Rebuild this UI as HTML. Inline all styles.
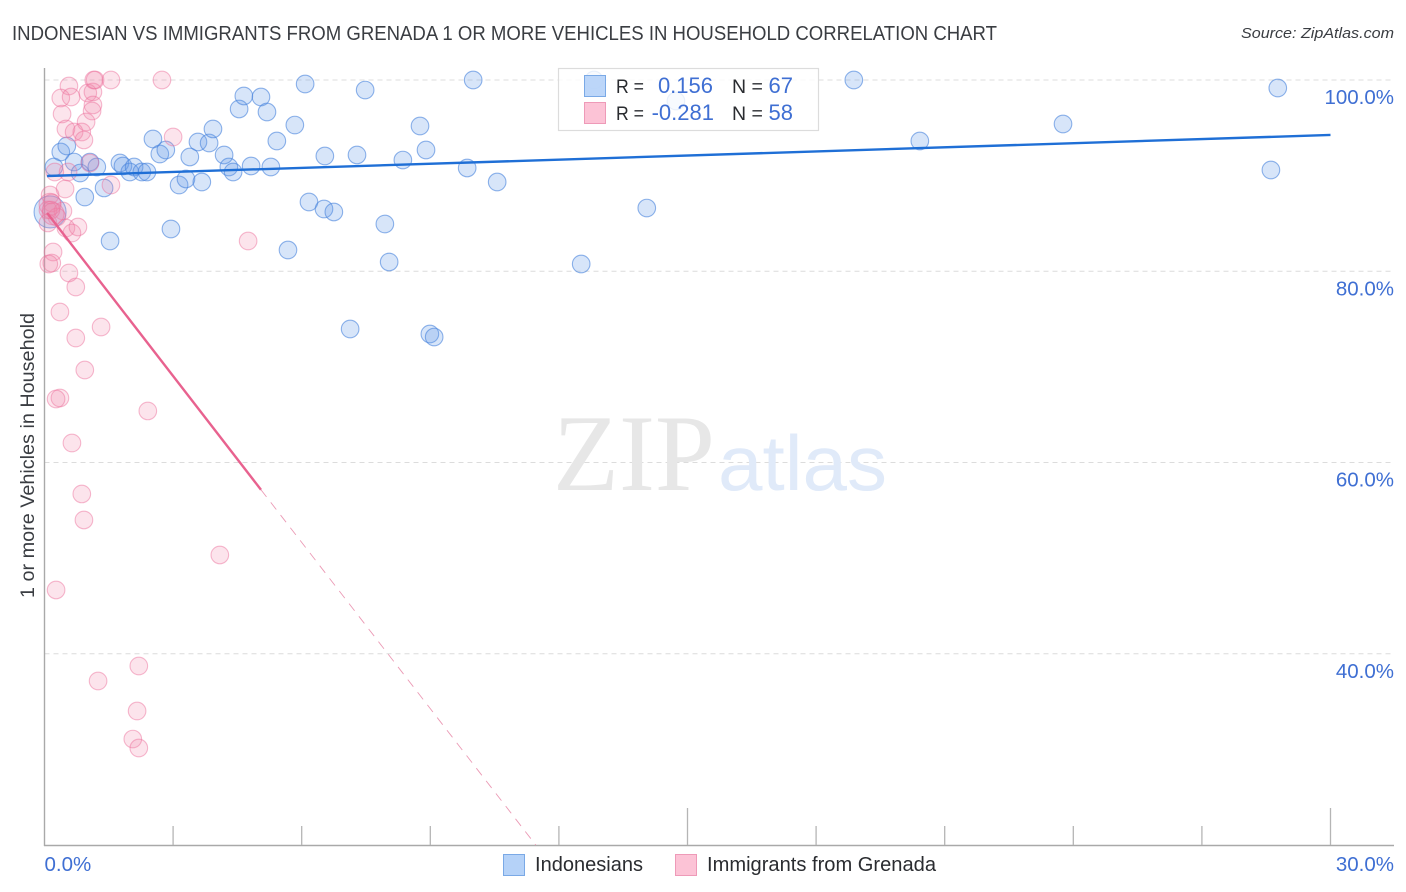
<!DOCTYPE html>
<html lang="en">
<head>
<meta charset="utf-8">
<title>Indonesian vs Immigrants from Grenada correlation chart</title>
<style>
html,body{margin:0;padding:0;background:#fff;}
svg{display:block;font-family:"Liberation Sans",sans-serif;}
</style>
</head>
<body>
<svg id="chart" xmlns="http://www.w3.org/2000/svg" width="1406" height="892" viewBox="0 0 1406 892">
  <rect x="0" y="0" width="1406" height="892" fill="#ffffff"/>
  <text x="12" y="40" font-size="20" fill="#3a3d42" textLength="985" lengthAdjust="spacingAndGlyphs">INDONESIAN VS IMMIGRANTS FROM GRENADA 1 OR MORE VEHICLES IN HOUSEHOLD CORRELATION CHART</text>
  <text x="1394" y="38" font-size="15" font-style="italic" fill="#3a3d42" text-anchor="end" textLength="153" lengthAdjust="spacingAndGlyphs">Source: ZipAtlas.com</text>
  <g id="grid"></g>
  <g>
    <text x="553" y="490" font-family="'Liberation Serif',serif" font-size="109" fill="#e7e7e7" textLength="162" lengthAdjust="spacingAndGlyphs">ZIP</text>
    <text x="718" y="490" font-family="'Liberation Sans',sans-serif" font-size="78" fill="#e0eaf9" textLength="169" lengthAdjust="spacingAndGlyphs">atlas</text>
  </g>
  <g id="axes"></g>
  <g id="points-indonesians"></g>
  <g id="points-grenada"></g>
  <g id="trends"></g>
  <g id="tick-labels"></g>
  <text transform="translate(34 598) rotate(-90)" font-size="19" fill="#3a3d42" textLength="285" lengthAdjust="spacingAndGlyphs">1 or more Vehicles in Household</text>

  <g>
    <rect x="558.5" y="68.5" width="260" height="62" fill="#ffffff" fill-opacity="0.8" stroke="#dcdcdc" stroke-width="1.2"/>
    <rect x="584.5" y="75.5" width="21" height="21" fill="#b5d2f8" fill-opacity="0.9" stroke="#7aa9e6"/>
    <rect x="584.5" y="102.5" width="21" height="21" fill="#fcc3d6" stroke="#ee9ab8"/>
    <text x="616" y="93" font-size="19.5" fill="#2a2c30" textLength="28" lengthAdjust="spacingAndGlyphs">R =</text>
    <text x="713" y="93" font-size="22" fill="#3f6fd3" text-anchor="end">0.156</text>
    <text x="732" y="93" font-size="19.5" fill="#2a2c30">N =</text>
    <text x="793" y="93" font-size="22" fill="#3f6fd3" text-anchor="end">67</text>
    <text x="616" y="120" font-size="19.5" fill="#2a2c30" textLength="28" lengthAdjust="spacingAndGlyphs">R =</text>
    <text x="714" y="120" font-size="22" fill="#3f6fd3" text-anchor="end">-0.281</text>
    <text x="732" y="120" font-size="19.5" fill="#2a2c30">N =</text>
    <text x="793" y="120" font-size="22" fill="#3f6fd3" text-anchor="end">58</text>
  </g>

  <g>
    <rect x="503.5" y="854.5" width="21" height="21" fill="#b5d2f8" stroke="#7aa9e6"/>
    <text x="535" y="871" font-size="20" fill="#2a2c30" textLength="108" lengthAdjust="spacingAndGlyphs">Indonesians</text>
    <rect x="675.5" y="854.5" width="21" height="21" fill="#fcc3d6" stroke="#ee9ab8"/>
    <text x="707" y="871" font-size="20" fill="#2a2c30" textLength="229" lengthAdjust="spacingAndGlyphs">Immigrants from Grenada</text>
  </g>
</svg>
<script>
const indonesianX = [0.22,0.38,0.52,0.69,0.83,0.94,1.06,1.22,1.39,1.53,1.76,1.83,1.99,2.09,2.27,2.39,2.53,2.69,2.83,2.95,3.14,3.30,3.39,3.58,3.67,3.84,3.93,4.19,4.30,4.40,4.54,4.65,4.82,5.05,5.19,5.28,5.42,5.68,5.84,6.08,6.17,6.52,6.54,6.75,7.13,7.29,7.48,7.94,8.04,8.36,8.76,8.90,8.99,9.09,9.86,10.00,10.56,12.52,12.82,14.73,14.05,18.88,20.42,23.76,28.61,28.77,0.13];
const indonesianY = [90.90,92.47,93.10,91.42,90.27,87.76,91.42,90.90,88.71,83.16,91.32,91.01,90.38,90.90,90.38,90.38,93.83,92.26,92.68,84.42,89.02,89.65,91.95,93.52,89.33,93.41,94.88,92.16,90.90,90.38,96.97,98.33,91.01,98.22,96.65,90.90,93.62,82.22,95.29,99.58,87.24,86.51,92.05,86.20,73.96,92.16,98.95,84.94,80.97,91.63,95.19,92.68,73.44,73.12,90.80,100,89.33,80.76,100,97.80,86.61,100,93.62,95.40,90.59,99.16,86.20];
const indonesianHeavyIndex = [66];

const grenadaX = [0.57,0.38,0.62,1.01,1.13,1.15,1.18,1.55,2.74,1.13,1.11,0.41,0.97,0.50,0.69,0.87,0.92,3.00,0.24,0.55,1.06,1.55,0.48,0.13,0.17,0.08,0.43,0.29,0.08,0.50,0.78,0.64,0.20,0.17,0.10,0.57,0.73,0.36,0.73,1.32,0.94,0.36,0.27,2.41,0.64,0.87,0.92,4.09,0.27,2.20,1.25,2.16,2.06,2.20,4.75,0.13,0.15,0.20];
const grenadaY = [99.37,98.12,98.22,98.64,98.75,100,100,100,100,97.39,96.76,96.44,95.61,94.88,94.56,94.56,93.73,94.04,90.38,90.38,91.32,89.02,88.60,87.97,87.14,86.41,86.30,85.67,85.05,84.52,84.63,84.00,82.01,80.86,80.76,79.82,78.35,75.74,73.02,74.17,69.67,66.75,66.64,65.39,62.04,56.71,53.99,50.33,46.67,38.72,37.15,34.01,31.08,30.14,83.16,87.00,86.40,86.00];
const grenadaHeavyIndex = [55,57];

const indonesianTrendX = [0.06,30];
const indonesianTrendY = [89.96,94.25];
const grenadaSolidX = [0.06,5.05];
const grenadaSolidY = [86.10,57.15];
const grenadaDashedX = [5.05,11.46];
const grenadaDashedY = [57.15,20];

const yTickValues = [100,80,60,40];
const yTickLabels = ["100.0%","80.0%","60.0%","40.0%"];
const xTickValues = [3,6,9,12,15,18,21,24,27,30];
const xTallTicks = [15,30];
const xEndValues = [0,30];
const xEndLabels = ["0.0%","30.0%"];

const xAxis = v => 44.5 + (v / 30) * 1286;
const yAxis = v => 80 + (100 - v) * 9.5625;
const NS = "http://www.w3.org/2000/svg";
const make = (tag, parent, attrs) => {
  const el = document.createElementNS(NS, tag);
  for (const k in attrs) el.setAttribute(k, attrs[k]);
  parent.appendChild(el);
  return el;
};

const grid = document.getElementById("grid");
yTickValues.forEach(v => {
  const el = make("line", grid, {x1:44.5, x2:1394, y1:yAxis(v), y2:yAxis(v), stroke:"#dcdcdc", "stroke-width":1, "stroke-dasharray":"5 4"});
  
  
});

const axes = document.getElementById("axes");
const yLine = make("line", axes, {x1:44.5, x2:44.5, y1:68, y2:846, stroke:"#a9a9a9", "stroke-width":1.4});


const xLine = make("line", axes, {x1:44, x2:1394, y1:845.5, y2:845.5, stroke:"#a9a9a9", "stroke-width":1.4});


xTickValues.forEach(v => {
  const top = xTallTicks.includes(v) ? 808 : 826;
  const el = make("line", axes, {x1:xAxis(v), x2:xAxis(v), y1:top, y2:845, stroke:"#b5b5b5", "stroke-width":1.3});
  
  
});

function drawPoints(groupId, xs, ys, heavy, fill, stroke, name) {
  const g = document.getElementById(groupId);
  xs.forEach((x, i) => {
    const isHeavy = heavy.includes(i);
    const el = make("circle", g, {cx:xAxis(x), cy:yAxis(ys[i]), r:isHeavy ? (groupId === "points-indonesians" ? 16 : 11) : 8.8, fill:fill, stroke:stroke, "stroke-width":1.1});
    
    
  });
}
drawPoints("points-indonesians", indonesianX, indonesianY, indonesianHeavyIndex, "rgba(96,150,230,0.25)", "rgba(70,130,220,0.6)", "indonesian-point");
drawPoints("points-grenada", grenadaX, grenadaY, grenadaHeavyIndex, "rgba(243,130,170,0.22)", "rgba(236,110,155,0.48)", "grenada-point");

const trends = document.getElementById("trends");
const blueTrend = make("line", trends, {x1:xAxis(indonesianTrendX[0]), y1:yAxis(indonesianTrendY[0]), x2:xAxis(indonesianTrendX[1]), y2:yAxis(indonesianTrendY[1]), stroke:"#1f6fd6", "stroke-width":2.4});


const pinkTrend = make("line", trends, {x1:xAxis(grenadaSolidX[0]), y1:yAxis(grenadaSolidY[0]), x2:xAxis(grenadaSolidX[1]), y2:yAxis(grenadaSolidY[1]), stroke:"#e8628f", "stroke-width":2.4});


const pinkDash = make("line", trends, {x1:xAxis(grenadaDashedX[0]), y1:yAxis(grenadaDashedY[0]), x2:xAxis(grenadaDashedX[1]), y2:yAxis(grenadaDashedY[1]), stroke:"#eb9ab5", "stroke-width":0.9, "stroke-dasharray":"9 7"});



const labels = document.getElementById("tick-labels");
yTickValues.forEach((v, i) => {
  const el = make("text", labels, {x:1394, y:yAxis(v) + 24, "font-size":20.5, fill:"#3f6fd3", "text-anchor":"end"});
  el.textContent = yTickLabels[i];
  
  
});
xEndValues.forEach((v, i) => {
  const el = make("text", labels, {x:i === 0 ? xAxis(v) : 1394, y:871, "font-size":20.5, fill:"#3f6fd3", "text-anchor":i === 0 ? "start" : "end"});
  el.textContent = xEndLabels[i];
  
  
});
</script>
</body>
</html>
